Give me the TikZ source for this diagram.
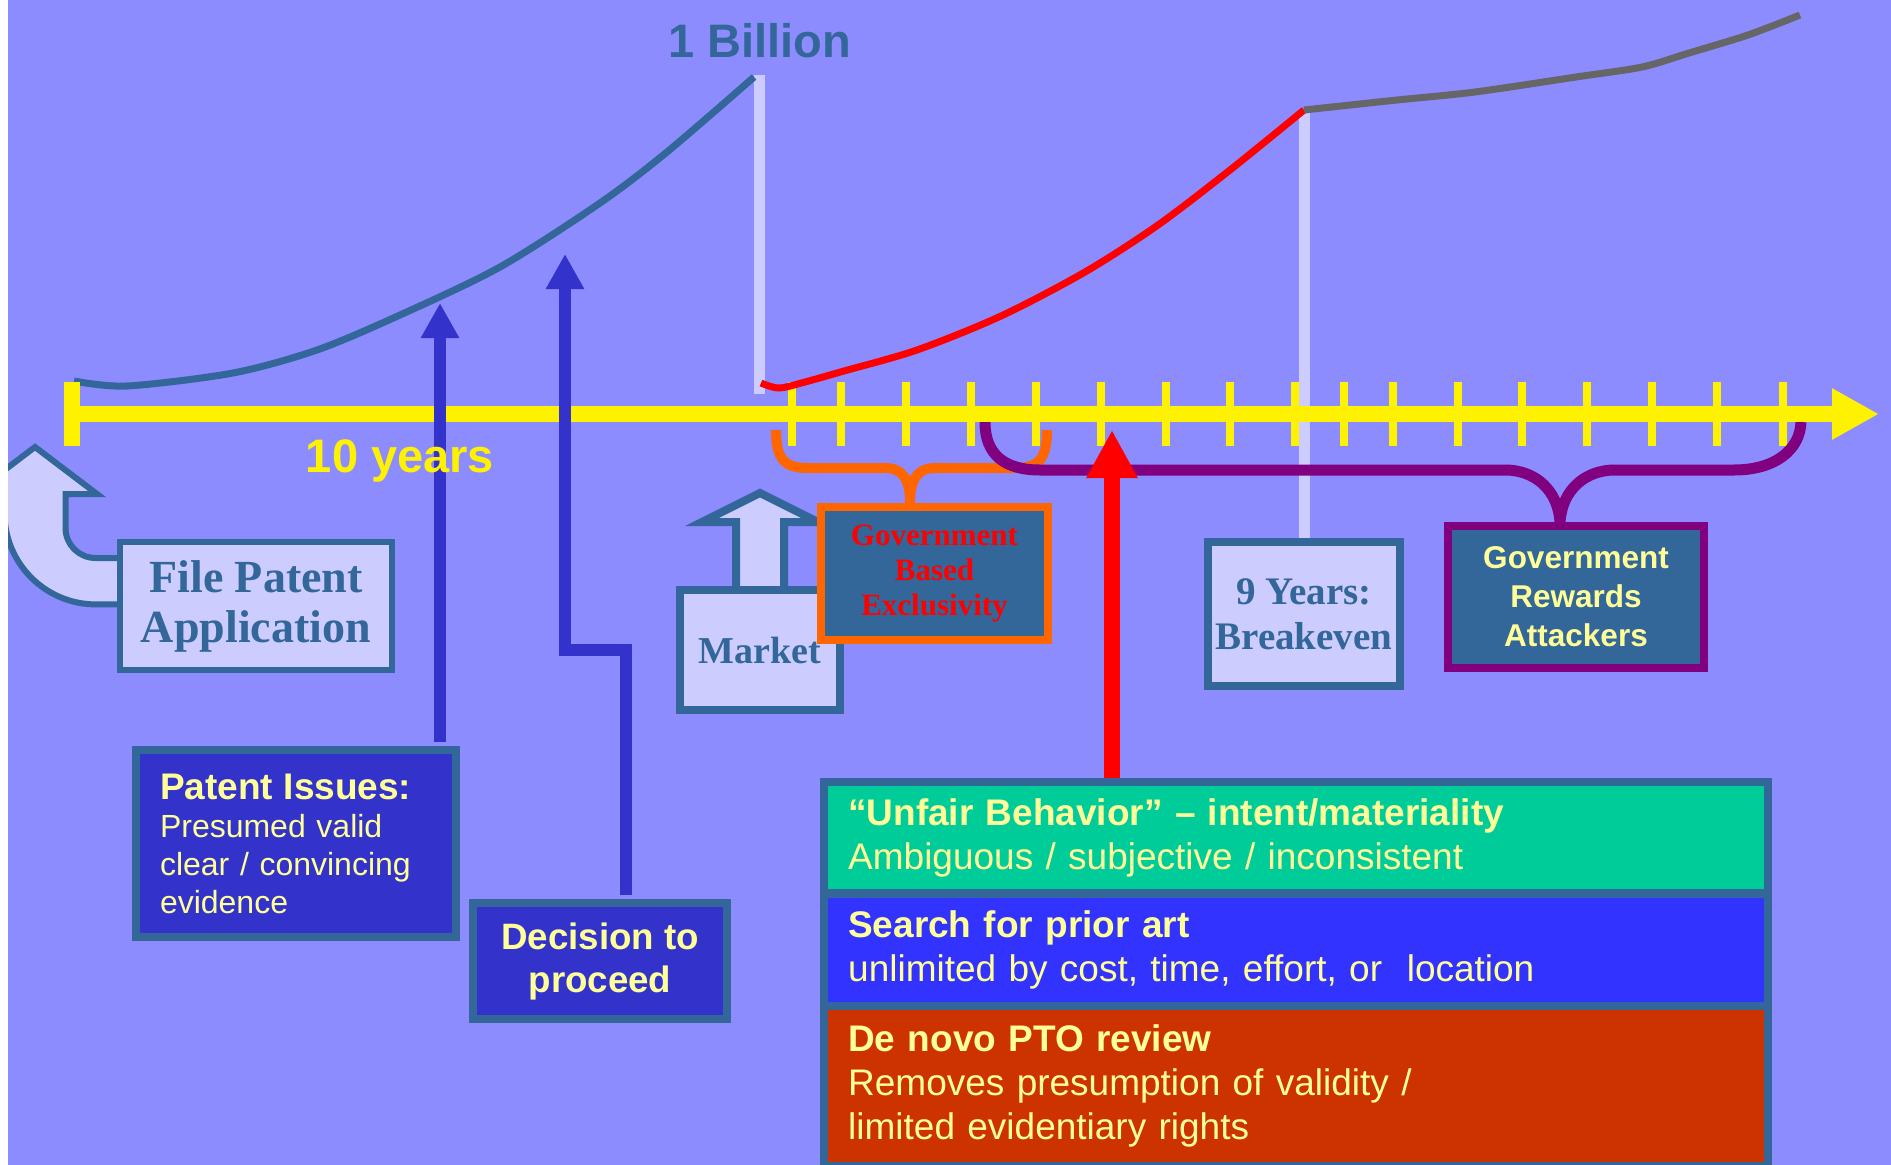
\documentclass[tikz,border=0pt]{standalone}
\usepackage{fontspec}
\setmainfont{Liberation Serif}
\setsansfont{Liberation Sans}
\usetikzlibrary{arrows.meta}
\definecolor{bg_lav}{RGB}{140, 140, 255}
\definecolor{pale_lav}{RGB}{204, 204, 255}
\definecolor{steel}{RGB}{51, 102, 153}
\definecolor{deep_blue}{RGB}{51, 51, 204}
\definecolor{pale_yel}{RGB}{255, 255, 153}
\definecolor{brace_org}{RGB}{255, 102, 0}
\definecolor{brace_pur}{RGB}{128, 0, 128}
\definecolor{band_green}{RGB}{0, 204, 153}
\definecolor{band_blue}{RGB}{51, 51, 255}
\definecolor{band_red}{RGB}{204, 51, 0}
\definecolor{curve_gray}{RGB}{102, 102, 102}
\tikzstyle{palebox}=[rectangle,fill=pale_lav,draw=steel,line width=8pt,
  inner sep=0pt,align=center,text=steel]
\tikzstyle{bluebox}=[rectangle,fill=deep_blue,draw=steel,line width=8pt,
  inner sep=0pt,text=pale_yel]
\tikzstyle{govbox}=[rectangle,fill=steel,line width=8pt,inner sep=0pt,align=center]
\tikzstyle{band}=[rectangle,anchor=north west,inner xsep=20pt,inner ysep=0pt,
  text width=896pt,align=left,text=pale_yel,font=\sffamily\fontsize{37}{44}\selectfont]
\tikzstyle{upline}=[draw=deep_blue,line width=12pt,shorten <=4pt,
  -{Triangle[length=35pt,width=36pt]}]
\tikzstyle{redup}=[draw=red,line width=16pt,-{Triangle[length=48pt,width=48pt]}]
\tikzstyle{paleline}=[draw=pale_lav,line width=11pt]
\tikzstyle{tickmark}=[draw=yellow,line width=8pt]
\tikzstyle{growth}=[line width=7pt]
\tikzstyle{bracelines}=[line width=10pt]

\begin{document}
\begin{tikzpicture}[x=1pt,y=-1pt]
    \useasboundingbox (0,0) rectangle (1891,1165);
    \clip (0,0) rectangle (1891,1165);
    \fill[bg_lav] (0,0) rectangle (1891,1165);
    \coordinate (origin) at (72,414);
    \coordinate (billion) at (759,75);
    \coordinate (peak) at (1304,110);
    \foreach \tx in {792,841,906,971,1036,1101,1166,1230,1295,1344,1393,1458,1522,1587,1652,1717,1783}
      \draw[tickmark] (\tx,382) -- (\tx,446);
    \draw[paleline] (billion) -- ++(0,319);
    \draw[paleline] (peak) -- (1304,540);
    \draw[growth,draw=steel] plot[smooth] coordinates {(74,381) (127,386) (233,373) (317,350)
      (400,315) (500,267) (600,203) (667,152) (754,77)};
    \draw[growth,draw=red] plot[smooth] coordinates {(761,383) (779,388) (805,382) (844,371)
      (917,350) (1001,316) (1085,272) (1158,225) (1230,170) (peak)};
    \draw[growth,draw=curve_gray] plot[smooth] coordinates {(peak) (1397,100) (1475,92)
      (1576,77) (1642,67) (1689,53) (1748,35) (1800,15)};
    \draw[bracelines,draw=brace_org] (776,430) .. controls (776,460) and (785,468) .. (808,468)
      -- (885,468) .. controls (903,468) and (910,480) .. (910,503)
      .. controls (910,480) and (917,468) .. (935,468) -- (1015,468)
      .. controls (1038,468) and (1047,460) .. (1047,430);
    \draw[bracelines,line width=11pt,draw=brace_pur] (985,422) .. controls (985,455) and (1005,470) .. (1040,470)
      -- (1505,470) .. controls (1535,470) and (1558,490) .. (1560,522)
      .. controls (1562,490) and (1585,470) .. (1615,470) -- (1734,470)
      .. controls (1775,470) and (1800,450) .. (1801,422);
    \draw[yellow,line width=16pt] (72,382) -- (72,446);
    \draw[yellow,line width=16pt,-{Triangle[length=47pt,width=48pt]}] (origin) -- (1879,414);
    \filldraw[fill=pale_lav,draw=steel,line width=6pt] (120,558) -- (95.5,558)
      arc[start angle=90,end angle=180,radius=30] -- (65.5,494) -- (97,494) -- (35,447)
      -- (-27,494) -- (4.5,494) -- (4.5,513) arc[start angle=180,end angle=90,radius=91.4]
      -- (120,604.5) -- cycle;
    \filldraw[fill=pale_lav,draw=steel,line width=8pt] (736,590) -- (736,522) -- (702,522)
      -- (760,493) -- (818,522) -- (784,522) -- (784,590) -- cycle;
    \node [style=bluebox,minimum width=320pt,minimum height=187pt,text width=272pt,
      inner xsep=24pt,align=left,font=\sffamily\fontsize{32}{38}\selectfont] (issues) at (296,843.5)
      {{\bfseries\fontsize{37}{38}\selectfont Patent Issues:}\\Presumed valid\\clear / convincing\\evidence};
    \node [style=bluebox,minimum width=254pt,minimum height=116pt,align=center,
      font=\sffamily\bfseries\fontsize{36.7}{43}\selectfont] (decision) at (600,961) {Decision to\\proceed};
    \node [rectangle,fill=steel,anchor=north west,minimum width=952pt,minimum height=400pt,
      inner sep=0pt] (stack) at (820,778) {};
    \coordinate (tipA) at (440,303);
    \coordinate (tipB) at (565,254);
    \coordinate (bendB) at (626,650);
    \coordinate (tipR) at (1112,430);
    \draw[upline] (tipA |- issues.north) -- (tipA);
    \draw[upline] (bendB |- decision.north) -- (bendB) -- (tipB |- bendB) -- (tipB);
    \draw[redup] (tipR |- stack.north) -- (tipR);
    \node [style=palebox,minimum width=272pt,minimum height=128pt,line width=6pt,
      font=\bfseries\fontsize{46}{50}\selectfont] (filing) at (256,606) {File Patent\\Application};
    \node [style=palebox,minimum width=160pt,minimum height=120pt] (market) at (760,650) {};
    \node [style=govbox,draw=brace_org,minimum width=227pt,minimum height=133pt,text=red,
      font=\bfseries\fontsize{31}{35}\selectfont] (exclusivity) at (934.5,573.5) {Government\\Based\\Exclusivity};
    \node [text=steel,inner sep=0pt,font=\bfseries\fontsize{38}{44}\selectfont] (marketlbl) at (market) {Market};
    \node [style=palebox,minimum width=192pt,minimum height=144pt,
      font=\bfseries\fontsize{39}{45}\selectfont] (breakeven) at (1304,614) {9 Years:\\Breakeven};
    \node [style=govbox,draw=brace_pur,minimum width=256pt,minimum height=142pt,text=pale_yel,
      font=\sffamily\bfseries\fontsize{31.5}{39}\selectfont] (rewards) at (1576,597) {Government\\Rewards\\Attackers};
    \node [style=band,fill=band_green,minimum height=103pt] (unfair) at (828,786)
      {\textbf{“Unfair Behavior” – intent/materiality}\\Ambiguous / subjective / inconsistent};
    \node [style=band,fill=band_blue,minimum height=104pt] (priorart) at (828,898)
      {\textbf{Search for prior art}\\unlimited by cost, time, effort, or\ \ location};
    \node [style=band,fill=band_red,minimum height=152pt] (denovo) at (828,1010)
      {\textbf{De novo PTO review}\\Removes presumption of validity /\\limited evidentiary rights};
    \node [text=steel,font=\sffamily\bfseries\fontsize{47}{50}\selectfont] (billionlbl) at (760,41) {1 Billion};
    \node [text=yellow,font=\sffamily\bfseries\fontsize{47}{50}\selectfont] (yearslbl) at (400,461) {10 years};
    \fill[white] (0,0) rectangle (8,1165);
\end{tikzpicture}
\end{document}
